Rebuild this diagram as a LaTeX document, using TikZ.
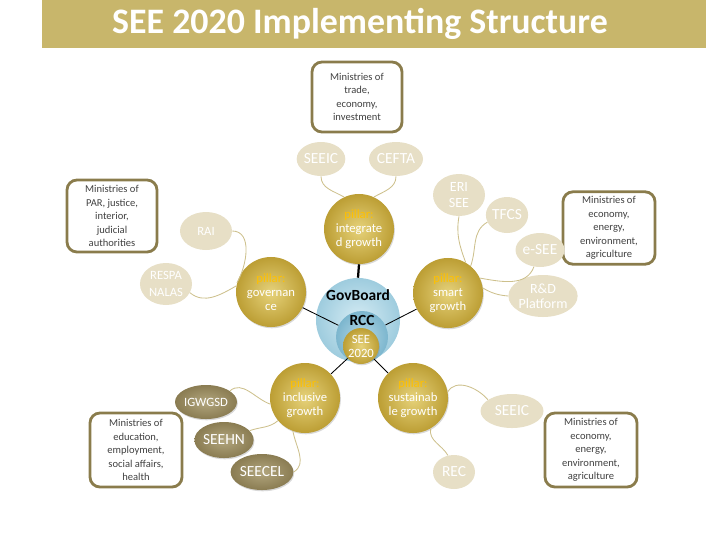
\documentclass[tikz,border=0pt]{standalone}
\usepackage{fontspec}
\setmainfont{Carlito}
\usepackage{xcolor}
\usetikzlibrary{
arrows.meta,
shapes.geometric,
shadows,
backgrounds
}
\definecolor{band}{RGB}{200,182,107}
\definecolor{beige}{RGB}{231,223,198}
\definecolor{khakiin}{RGB}{178,166,126}
\definecolor{khakiout}{RGB}{138,124,82}
\definecolor{goldin}{RGB}{230,210,122}
\definecolor{goldout}{RGB}{188,158,52}
\definecolor{hubin}{RGB}{214,236,244}
\definecolor{hubout}{RGB}{158,204,222}
\definecolor{rccin}{RGB}{180,216,230}
\definecolor{rccout}{RGB}{124,182,206}
\definecolor{boxline}{RGB}{138,124,76}
\definecolor{boxtext}{RGB}{64,64,64}
\definecolor{linkcol}{RGB}{205,192,140}
\definecolor{pillartxt}{RGB}{255,192,0}

\begin{document}
\begin{tikzpicture}[x=0.025cm, y=0.025cm,
    pillar/.style={circle, minimum size=17.5mm, inner sep=0pt, shading=radial,
      inner color=goldin, outer color=goldout, text=white, align=center,
      font=\fontsize{9}{10}\selectfont,
      drop shadow={opacity=0.3, shadow xshift=0.6pt, shadow yshift=-0.9pt}},
    agency/.style={ellipse, inner sep=0pt, fill=beige, text=white, align=center,
      font=\fontsize{11}{12}\selectfont},
    darkagency/.style={agency, fill=none, shading=radial, inner color=khakiin,
      outer color=khakiout,
      drop shadow={opacity=0.3, shadow xshift=0.6pt, shadow yshift=-0.9pt}},
    ministry/.style={draw=boxline, line width=2pt, rounded corners=2.5mm,
      minimum width=23mm, minimum height=18mm, align=center, text=boxtext,
      font=\fontsize{7.5}{9.6}\selectfont},
    hub/.style={circle, inner sep=0pt, shading=radial},
    hubtext/.style={font=\fontsize{11}{12}\selectfont\bfseries, inner sep=0pt},
    link/.style={draw=linkcol, line width=0.6pt},
    hubline/.style={draw=black, line width=0.6pt}]
  \useasboundingbox (0,0) rectangle (720,-540);
  \fill[band] (42,0) rectangle (706,-48);
  \node[text=white, font=\fontsize{25.5}{27}\selectfont\bfseries] (head) at (360,-24) {SEE 2020 Implementing Structure};

  \node[ministry, minimum width=22.5mm, minimum height=17.5mm] (mtop) at (357,-97)
    {Ministries of\\trade,\\economy,\\investment};
  \node[ministry, minimum width=22.5mm] (mleft) at (112,-216)
    {Ministries of\\PAR, justice,\\interior,\\judicial\\authorities};
  \node[ministry, minimum height=17.75mm] (mright) at (609,-228)
    {Ministries of\\economy,\\energy,\\environment,\\agriculture};
  \node[ministry, minimum height=18.5mm] (mbl) at (136,-450)
    {Ministries of\\education,\\employment,\\social affairs,\\health};
  \node[ministry, minimum height=18.5mm] (mbr) at (591,-450)
    {Ministries of\\economy,\\energy,\\environment,\\agriculture};

  \node[agency, minimum width=10.5mm, minimum height=8.5mm] (SEEICt) at (321,-159) {SEEIC};
  \node[agency, minimum width=10.5mm, minimum height=8.5mm] (CEFTA) at (396,-159) {CEFTA};
  \node[agency, minimum width=13mm, minimum height=9.5mm, font=\fontsize{9}{10}\selectfont] (RAI) at (206,-231) {RAI};
  \node[agency, minimum width=13mm, minimum height=10.5mm, font=\fontsize{9}{12}\selectfont] (RESPA) at (166,-284) {RESPA\\NALAS};
  \node[agency, minimum width=13mm, minimum height=10.5mm, font=\fontsize{10}{12}\selectfont] (ERI) at (459,-195) {ERI\\SEE};
  \node[agency, minimum width=10mm, minimum height=9mm] (TFCS) at (507,-215) {TFCS};
  \node[agency, minimum width=10mm, minimum height=8.5mm] (eSEE) at (540,-250) {e-SEE};
  \node[agency, minimum width=14.25mm, minimum height=10.5mm, font=\fontsize{10}{11}\selectfont] (RD) at (543,-296) {R\&D\\Platform};
  \node[agency, minimum width=15.75mm, minimum height=8.5mm] (SEEICb) at (512,-411) {SEEIC};
  \node[agency, minimum width=10.5mm, minimum height=8.5mm] (REC) at (454,-472) {REC};
  \node[darkagency, minimum width=13mm, minimum height=8.5mm, font=\fontsize{9}{10}\selectfont] (IGW) at (206,-402) {IGWGSD};
  \node[darkagency, minimum width=14.5mm, minimum height=9mm] (SEEHN) at (224,-440) {SEEHN};
  \node[darkagency, minimum width=14mm, minimum height=9mm] (SEECEL) at (262,-472) {SEECEL};

  \node[hub, minimum size=21mm, inner color=hubin, outer color=hubout] (gov) at (358,-320) {};
  \node[hub, minimum size=13mm, inner color=rccin, outer color=rccout] (rcc) at (362,-337) {};
  \node[pillar, minimum size=9mm] (see) at (361,-346) {SEE\\2020};
  \node[hubtext] (govlbl) at (358,-295) {GovBoard};
  \node[hubtext] (rcclbl) at (362,-320) {RCC};

  \node[pillar] (integ) at (359,-229) {\textcolor{pillartxt}{pillar:}\\integrate\\d growth};
  \node[pillar] (govp) at (271,-292) {\textcolor{pillartxt}{pillar:}\\governan\\ce};
  \node[pillar] (smart) at (448,-293) {\textcolor{pillartxt}{pillar:}\\smart\\growth};
  \node[pillar] (incl) at (305,-398) {\textcolor{pillartxt}{pillar:}\\inclusive\\growth};
  \node[pillar] (sust) at (413,-398) {\textcolor{pillartxt}{pillar:}\\sustainab\\le growth};

  \path[link]
      (SEEICt.south) edge[out=-90, in=150] (integ.115)
      (CEFTA.south) edge[out=-90, in=30] (integ.65)
      (RAI.east) edge[out=0, in=60] (govp.165)
      (RESPA.-20) edge[out=-40, in=210] (govp.170)
      (ERI.south) edge[out=-100, in=110] (smart.60)
      (TFCS.200) edge[out=210, in=70] (smart.50)
      (eSEE.250) edge[out=-110, in=-10] (smart.25)
      (RD.west) edge[out=175, in=-30] (smart.8)
      (IGW.25) edge[out=40, in=160] (incl.190)
      (SEEHN.20) edge[out=20, in=220] (incl.220)
      (SEECEL.east) edge[out=30, in=-80] (incl.250)
      (sust.10) edge[out=60, in=130] (SEEICb.155)
      (REC.110) edge[out=120, in=-100] (sust.-60);
  \draw[hubline, line width=1.6pt] (integ.south) -- (gov.north);
  \path[hubline]
      (govp) edge (rcc)
      (smart) edge (rcc)
      (incl) edge (see)
      (sust) edge (see);
\end{tikzpicture}
\end{document}
